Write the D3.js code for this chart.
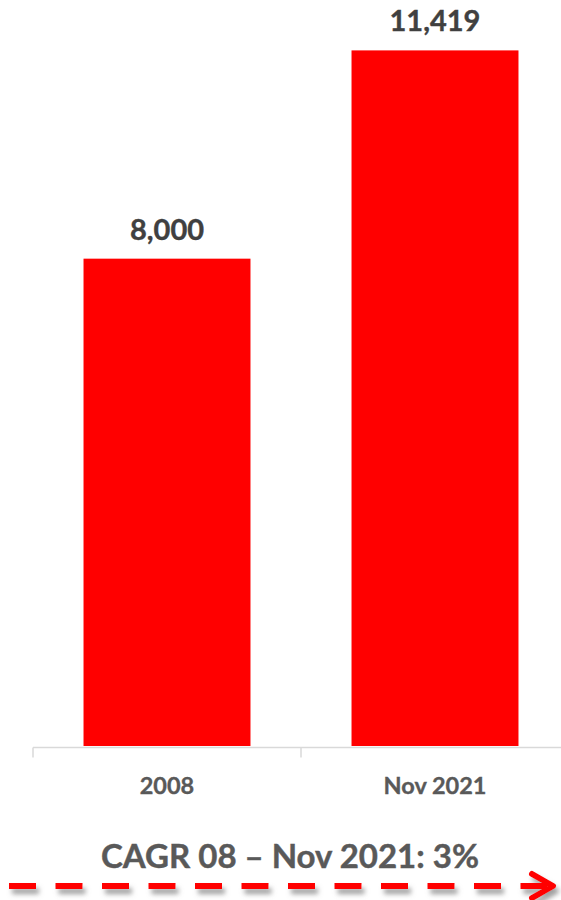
<!DOCTYPE html>
<html>
<head>
<meta charset="utf-8">
<script src="https://cdn.jsdelivr.net/npm/d3@7"></script>
<style>
  html, body { margin: 0; padding: 0; background: #fff; }
  svg { display: block; font-family: Lato, "Open Sans", sans-serif; }
</style>
</head>
<body>
<svg id="chart" width="561" height="900"></svg>
<script>
// Chart data
const categories = ["2008", "Nov 2021"];
const values = [8000, 11419];
const valueLabels = ["8,000", "11,419"];
const footnote = "CAGR 08 \u2013 Nov 2021: 3%";

const svg = d3.select("#chart");

const x = d3.scaleBand()
  .domain(categories)
  .range([33, 569])
  .paddingInner(0.377)
  .paddingOuter(0.1885);

const y = d3.scaleLinear()
  .domain([0, 12000])
  .range([746, 15]);

// Bars
svg.append("g")
  .selectAll("rect")
  .data(values)
  .join("rect")
  .attr("x", (d, i) => x(categories[i]))
  .attr("y", d => y(d))
  .attr("width", x.bandwidth())
  .attr("height", d => y(0) - y(d))
  .attr("fill", "#ff0000");

// Value labels
svg.append("g")
  .selectAll("text")
  .data(values)
  .join("text")
  .attr("x", (d, i) => x(categories[i]) + x.bandwidth() / 2)
  .attr("y", d => y(d) - 19)
  .attr("text-anchor", "middle")
  .attr("font-size", 29)
  .attr("font-weight", 700)
  .attr("fill", "#404040")
  .attr("stroke", "#404040")
  .attr("stroke-width", 0.4)
  .text((d, i) => valueLabels[i]);

// Baseline with ticks at category boundaries
const axisColor = "#d9d9d9";
const baseY = y(0) + 1.5;
const axisG = svg.append("g");
axisG.append("line")
  .attr("x1", x.range()[0]).attr("x2", x.range()[1])
  .attr("y1", baseY).attr("y2", baseY)
  .attr("stroke", axisColor).attr("stroke-width", 1.5);
const bounds = [x.range()[0], ...categories.slice(1).map(c => x(c) - x.step() * x.paddingInner() / 2), x.range()[1]];
axisG.selectAll("line.tick")
  .data(bounds)
  .join("line")
  .attr("class", "tick")
  .attr("x1", d => d).attr("x2", d => d)
  .attr("y1", baseY).attr("y2", baseY + 10)
  .attr("stroke", axisColor).attr("stroke-width", 1.5);

// Category labels
const xAxis = svg.append("g")
  .attr("transform", `translate(0,${baseY})`)
  .call(d3.axisBottom(x).tickSize(0).tickPadding(0));
xAxis.select(".domain").remove();
xAxis.selectAll("text")
  .attr("dy", null)
  .attr("y", 46)
  .attr("font-family", "Lato, 'Open Sans', sans-serif")
  .attr("font-size", 23.5)
  .attr("font-weight", 700)
  .attr("fill", "#595959")
  .attr("stroke", "#595959")
  .attr("stroke-width", 0.35);

// Growth note
svg.append("text")
  .attr("x", 290)
  .attr("y", 868)
  .attr("text-anchor", "middle")
  .attr("font-size", 33)
  .attr("font-weight", 700)
  .attr("fill", "#595959")
  .attr("stroke", "#595959")
  .attr("stroke-width", 0.45)
  .text(footnote);

// Dashed arrow with soft shadow
const defs = svg.append("defs");
const f = defs.append("filter").attr("id", "shadow")
  .attr("x", "-5%").attr("y", "-100%").attr("width", "110%").attr("height", "300%");
f.append("feDropShadow")
  .attr("dx", 3).attr("dy", 5).attr("stdDeviation", 2.5)
  .attr("flood-color", "#808080").attr("flood-opacity", 0.75);

const arrowY = 886;
const arrow = svg.append("g").attr("filter", "url(#shadow)");
arrow.append("line")
  .attr("x1", 9).attr("x2", 548)
  .attr("y1", arrowY).attr("y2", arrowY)
  .attr("stroke", "#ff0000")
  .attr("stroke-width", 6)
  .attr("stroke-dasharray", "27 19.5");
arrow.append("path")
  .attr("d", d3.line()([[532, arrowY - 12], [553, arrowY], [532, arrowY + 12]]))
  .attr("fill", "none")
  .attr("stroke", "#ff0000")
  .attr("stroke-width", 6)
  .attr("stroke-linecap", "round")
  .attr("stroke-linejoin", "round");
</script>
</body>
</html>
